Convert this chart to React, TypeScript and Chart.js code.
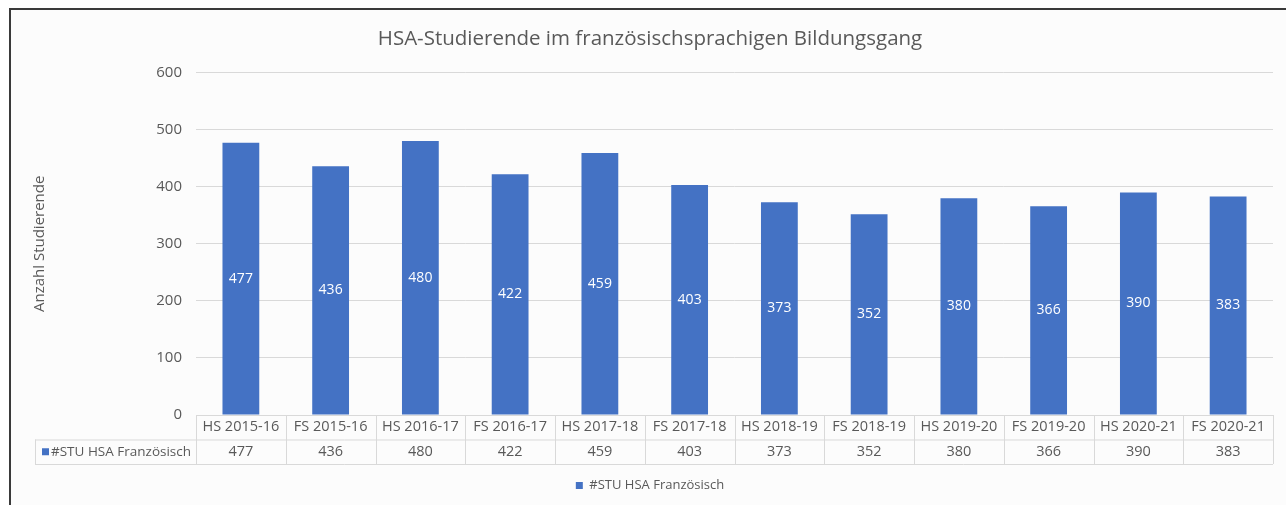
import React, { useEffect, useRef } from "react";
import { Chart, registerables } from "chart.js";

Chart.register(...registerables);

const chartTitle = "HSA-Studierende im französischsprachigen Bildungsgang";
const yAxisTitle = "Anzahl Studierende";
const seriesLabel = "#STU HSA Französisch";
const categories = [
  "HS 2015-16",
  "FS 2015-16",
  "HS 2016-17",
  "FS 2016-17",
  "HS 2017-18",
  "FS 2017-18",
  "HS 2018-19",
  "FS 2018-19",
  "HS 2019-20",
  "FS 2019-20",
  "HS 2020-21",
  "FS 2020-21",
];
const values = [477, 436, 480, 422, 459, 403, 373, 352, 380, 366, 390, 383];
const yMin = 0;
const yMax = 600;
const yStep = 100;

const FONT = "'Open Sans', 'Noto Sans', sans-serif";
const TEXT = "#595959";
const GRID = "#d9d9d9";
const BAR = "#4472C4";

const framePlugin = {
  id: "frame",
  beforeDraw(chart: any) {
    const { ctx, width, height } = chart;
    ctx.save();
    ctx.fillStyle = "#ffffff";
    ctx.fillRect(0, 0, width, height);
    ctx.fillStyle = "#fcfcfc";
    ctx.fillRect(10, 9, width - 10, height - 9);
    ctx.strokeStyle = "#3a3a3a";
    ctx.lineWidth = 2;
    ctx.beginPath();
    ctx.moveTo(10, height);
    ctx.lineTo(10, 9);
    ctx.lineTo(width, 9);
    ctx.stroke();
    ctx.restore();
  },
};

const barLabelPlugin = {
  id: "barLabels",
  afterDatasetsDraw(chart: any) {
    const { ctx } = chart;
    const meta = chart.getDatasetMeta(0);
    const data = chart.data.datasets[0].data;
    ctx.save();
    ctx.fillStyle = "#ffffff";
    ctx.font = `14px ${FONT}`;
    ctx.textAlign = "center";
    ctx.textBaseline = "middle";
    meta.data.forEach((el: any, i: number) => {
      ctx.fillText(String(data[i]), el.x, (el.y + el.base) / 2);
    });
    ctx.restore();
  },
};

const dataTablePlugin = {
  id: "dataTable",
  afterDraw(chart: any) {
    const { ctx, chartArea } = chart;
    const xScale = chart.scales.x;
    const labels = chart.data.labels as string[];
    const data = chart.data.datasets[0].data as number[];
    const n = labels.length;
    const left = chartArea.left;
    const right = chartArea.right;
    const w = (right - left) / n;
    const top = chartArea.bottom;
    const rowH = 24.5;
    const mid = top + rowH;
    const bot = top + 2 * rowH;
    const legendLeft = 35;

    ctx.save();
    ctx.strokeStyle = GRID;
    ctx.lineWidth = 1;
    ctx.beginPath();
    ctx.moveTo(left, top + 0.5);
    ctx.lineTo(right, top + 0.5);
    ctx.moveTo(legendLeft, mid + 0.5);
    ctx.lineTo(right, mid + 0.5);
    ctx.moveTo(legendLeft, bot + 0.5);
    ctx.lineTo(right, bot + 0.5);
    for (let i = 0; i <= n; i++) {
      const x = Math.round(left + i * w) + 0.5;
      ctx.moveTo(x, top);
      ctx.lineTo(x, bot);
    }
    ctx.moveTo(legendLeft + 0.5, mid);
    ctx.lineTo(legendLeft + 0.5, bot);
    ctx.stroke();

    ctx.fillStyle = TEXT;
    ctx.font = `14.5px ${FONT}`;
    ctx.textAlign = "center";
    ctx.textBaseline = "middle";
    for (let i = 0; i < n; i++) {
      const cx = xScale.getPixelForValue(i);
      ctx.fillText(labels[i], cx, top + rowH / 2);
      ctx.fillText(String(data[i]), cx, mid + rowH / 2);
    }
    // legend key in the table
    ctx.fillStyle = BAR;
    ctx.fillRect(42, mid + rowH / 2 - 3.5, 7, 7);
    ctx.fillStyle = TEXT;
    ctx.textAlign = "left";
    ctx.font = `13.5px ${FONT}`;
    ctx.fillText(chart.data.datasets[0].label, 51, mid + rowH / 2);
    ctx.restore();
  },
};

export default function App() {
  const canvasRef = useRef<HTMLCanvasElement | null>(null);

  useEffect(() => {
    if (!canvasRef.current) return;
    const chart = new Chart(canvasRef.current, {
      type: "bar",
      data: {
        labels: categories,
        datasets: [
          {
            label: seriesLabel,
            data: values,
            backgroundColor: BAR,
            borderWidth: 0,
            categoryPercentage: 1,
            barPercentage: 0.41,
          },
        ],
      },
      options: {
        responsive: false,
        animation: false,
        events: [],
        layout: { padding: { left: 27, right: 13, top: 0, bottom: 3 } },
        plugins: {
          title: {
            display: true,
            text: chartTitle,
            color: TEXT,
            font: { family: FONT, size: 20.5, weight: "normal" },
            padding: { top: 27, bottom: 21 },
          },
          legend: {
            display: true,
            position: "bottom",
            labels: {
              color: TEXT,
              font: { family: FONT, size: 13 },
              boxWidth: 7,
              boxHeight: 7,
              padding: 10,
            },
          },
          tooltip: { enabled: false },
        },
        scales: {
          x: {
            type: "category",
            ticks: { display: false },
            grid: { display: false },
            border: { display: false },
            afterFit(scale: any) {
              scale.height = 54;
            },
          },
          y: {
            min: yMin,
            max: yMax,
            ticks: {
              stepSize: yStep,
              color: TEXT,
              font: { family: FONT, size: 15 },
              padding: 14,
            },
            grid: { color: GRID, drawTicks: false, lineWidth: 1 },
            border: { display: false },
            title: {
              display: true,
              text: yAxisTitle,
              color: TEXT,
              font: { family: FONT, size: 15 },
              padding: { top: 4, bottom: 4 },
            },
            afterFit(scale: any) {
              scale.width = 169;
            },
          },
        },
      },
      plugins: [framePlugin, barLabelPlugin, dataTablePlugin],
    });
    return () => chart.destroy();
  }, []);

  return (
    <div style={{ position: "fixed", left: 0, top: 0, width: 1286, height: 505 }}>
      <canvas ref={canvasRef} width={1286} height={505} style={{ display: "block" }} />
    </div>
  );
}
